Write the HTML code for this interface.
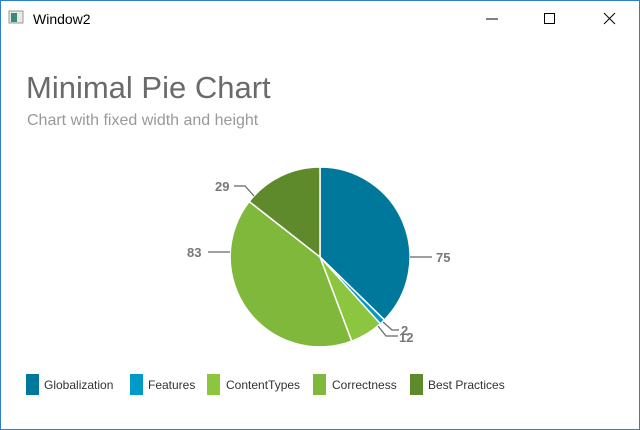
<!DOCTYPE html><html><head><style>
body{margin:0;width:640px;height:430px;overflow:hidden;background:#fff;font-family:"Liberation Sans",sans-serif}
.win{position:absolute;left:0;top:0;width:638px;height:428px;border:1px solid #2b80c8}
</style></head><body><div class="win"></div>
<svg width="640" height="430" style="position:absolute;left:0;top:0" font-family="Liberation Sans, sans-serif">
<rect x="9" y="11" width="14" height="12" fill="#e8e8e8" stroke="#999"/><rect x="11" y="13" width="6" height="9" fill="#3a8a7a"/>
<text x="33" y="24" font-size="14" fill="#000">Window2</text>
<line x1="486" y1="19" x2="498" y2="19" stroke="#000"/>
<rect x="544.5" y="13.5" width="10" height="10" fill="none" stroke="#000"/>
<path d="M604 13L615 24M615 13L604 24" stroke="#000"/>
<text x="26" y="98" font-size="31" fill="#6a6a6a" font-weight="300">Minimal Pie Chart</text>
<text x="27" y="125" font-size="16" fill="#999">Chart with fixed width and height</text>
<g stroke="#fff" stroke-width="1.5">
<path d="M320 257L320 167A90 90 0 0 1 384.4 319.9Z" fill="#00789c"/>
<path d="M320 257L384.4 319.9A90 90 0 0 1 380.3 323.8Z" fill="#0099c8"/>
<path d="M320 257L380.3 323.8A90 90 0 0 1 351.7 341.2Z" fill="#8cc63f"/>
<path d="M320 257L351.7 341.2A90 90 0 0 1 249.2 201.5Z" fill="#80b83b"/>
<path d="M320 257L249.2 201.5A90 90 0 0 1 320 167Z" fill="#5f8a2c"/>
</g>
<g stroke="#666" fill="none" stroke-width="1.2">
<path d="M410 257H432"/><path d="M208 252H230"/><path d="M234 186H245L254 196"/>
<path d="M383 322L392 330H399"/><path d="M378 326L386 336H398"/>
</g>
<g font-size="13" font-weight="bold" fill="#777">
<text x="436" y="262">75</text><text x="187" y="257">83</text><text x="215" y="191">29</text>
<text x="401" y="335">2</text><text x="399" y="342">12</text>
</g>
<g font-size="12" fill="#333">
<rect x="26" y="374" width="13" height="21" fill="#00789c"/><text x="44" y="389">Globalization</text>
<rect x="130" y="374" width="13" height="21" fill="#0099c8"/><text x="148" y="389">Features</text>
<rect x="207" y="374" width="13" height="21" fill="#8cc63f"/><text x="226" y="389">ContentTypes</text>
<rect x="313" y="374" width="13" height="21" fill="#80b83b"/><text x="332" y="389">Correctness</text>
<rect x="410" y="374" width="13" height="21" fill="#5f8a2c"/><text x="428" y="389">Best Practices</text>
</g>
</svg></body></html>
